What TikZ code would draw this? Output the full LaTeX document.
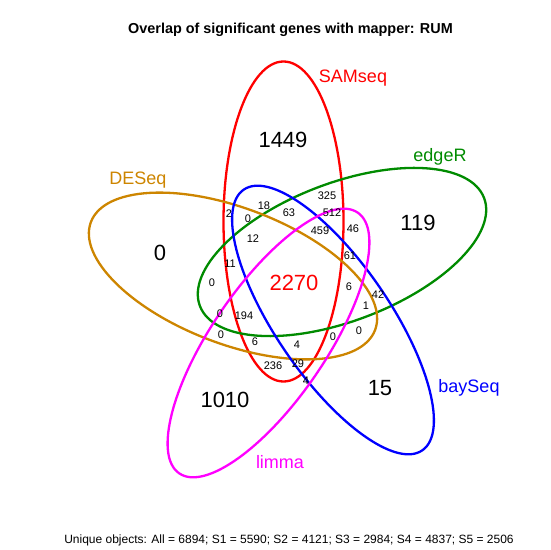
\documentclass[tikz,border=0pt]{standalone}
\usepackage{fontspec}
\setmainfont{Liberation Sans}
\usepackage{xcolor}
\definecolor{samred}{RGB}{255,0,0}
\definecolor{edgegreen}{RGB}{0,139,0}
\definecolor{desorange}{RGB}{205,133,0}
\definecolor{bayblue}{RGB}{0,0,255}
\definecolor{limmapink}{RGB}{255,0,255}

\begin{document}
\begin{tikzpicture}[x=1pt,y=1pt,
  setline/.style = {line width=2.3pt},
  bignum/.style  = {font=\fontsize{22}{22}\selectfont},
  smallnum/.style= {font=\fontsize{11}{11}\selectfont},
  setname/.style = {font=\fontsize{18}{18}\selectfont}]
%\draw[help lines] (0,0) grid (550,550);
\useasboundingbox (0,0) rectangle (550,550);

\draw[setline, samred] (283.5,328.5) ellipse [x radius=60, y radius=160];
\draw[setline, edgegreen, rotate around={20.8:(342,298)}] (342,298) ellipse [x radius=152, y radius=69];
\draw[setline, desorange, rotate around={-20.8:(233,274)}] (233,274) ellipse [x radius=152, y radius=68];
\draw[setline, bayblue, rotate around={-55.6:(333,230)}] (333,230) ellipse [x radius=158, y radius=57];
\draw[setline, limmapink, rotate around={55.6:(268.5,207)}] (268.5,207) ellipse [x radius=158, y radius=57];

\node[font=\fontsize{14.4}{14.4}\selectfont\bfseries] (title) at (290.5,520) {Overlap of significant genes with mapper: RUM};
\node[font=\fontsize{12}{12}\selectfont] (unique) at (289,10) {Unique objects: All = 6894; S1 = 5590; S2 = 4121; S3 = 2984; S4 = 4837; S5 = 2506};

\node[setname, samred]    (SAMseq) at (353,472) {SAMseq};
\node[setname, edgegreen] (edgeR)  at (440,393) {edgeR};
\node[setname, desorange] (DESeq)  at (138,370) {DESeq};
\node[setname, bayblue]   (baySeq) at (469,162) {baySeq};
\node[setname, limmapink] (limma)  at (280,88)  {limma};

\node[bignum] (n1449) at (283,410) {1449};
\node[bignum] (n119)  at (418,327) {119};
\node[bignum] (n0)    at (160,297) {0};
\node[bignum, samred] (n2270) at (294,267) {2270};
\node[bignum] (n1010) at (225,150) {1010};
\node[bignum] (n15)   at (380,162) {15};

\node[smallnum] (c1)  at (229,336) {2};
\node[smallnum] (c2)  at (248,331) {0};
\node[smallnum] (c3)  at (264,344) {18};
\node[smallnum] (c4)  at (289,337) {63};
\node[smallnum] (c5)  at (327,354) {325};
\node[smallnum] (c6)  at (332,337) {512};
\node[smallnum] (c7)  at (320,319) {459};
\node[smallnum] (c8)  at (353,321) {46};
\node[smallnum] (c9)  at (253,311) {12};
\node[smallnum] (c10) at (350,294) {61};
\node[smallnum] (c11) at (230,286) {11};
\node[smallnum] (c12) at (212,267) {0};
\node[smallnum] (c13) at (349,263) {6};
\node[smallnum] (c14) at (378,255) {42};
\node[smallnum] (c15) at (366,244) {1};
\node[smallnum] (c16) at (220,236) {0};
\node[smallnum] (c17) at (244,234) {194};
\node[smallnum] (c18) at (221,215) {0};
\node[smallnum] (c19) at (255,208) {6};
\node[smallnum] (c20) at (297,205) {4};
\node[smallnum] (c21) at (333,213) {0};
\node[smallnum] (c22) at (359,219) {0};
\node[smallnum] (c23) at (273,184) {236};
\node[smallnum] (c24) at (298,186) {29};
\node[smallnum] (c25) at (306,169) {4};
\end{tikzpicture}
\end{document}
